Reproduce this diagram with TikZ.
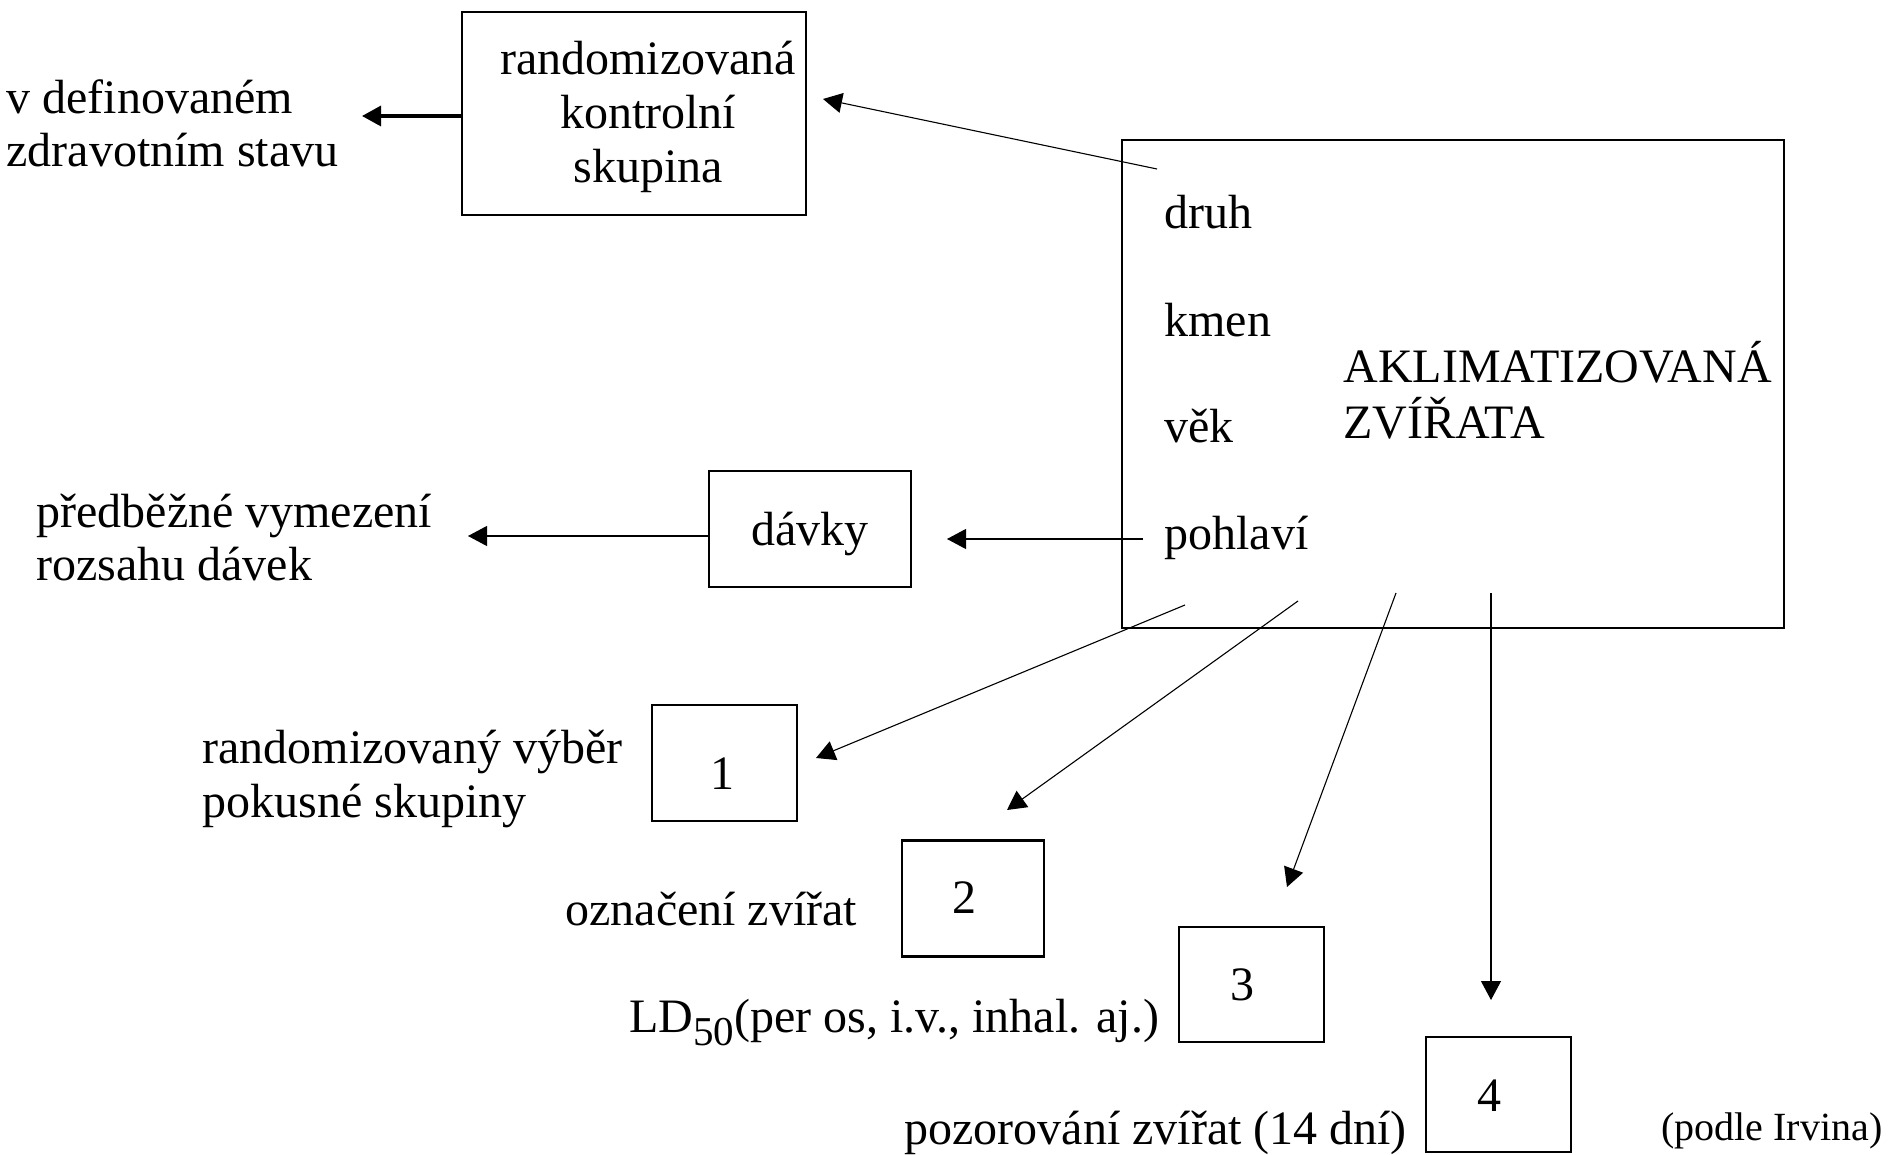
\documentclass[tikz,border=0pt]{standalone}
\usepackage{fontspec}
\setmainfont{Liberation Serif}
\usetikzlibrary{arrows.meta}
\begin{document}
\begin{tikzpicture}[x=0.5pt,y=-0.5pt,
  box/.style={draw, line width=1.45pt, inner sep=0pt},
  txt/.style={inner sep=0pt, font=\fontsize{24}{26.5}\selectfont},
  conn/.style={line width=0.55pt, -{Triangle[length=9.5pt,width=10pt]}},
  thickconn/.style={line width=1.6pt, -{Triangle[length=9.5pt,width=10pt]}}]
\useasboundingbox (0,0) rectangle (1890,1155);
\fill[white] (0,0) rectangle (1890,1155);

% boxes
\node[box, minimum width=172pt, minimum height=101.5pt] (ctrl) at (634,113.5) {};
\node[box, minimum width=331pt, minimum height=244pt] (big) at (1453,384) {};
\node[box, txt, minimum width=101pt, minimum height=58pt, text height=18pt, text depth=2pt] (davky) at (810,529) {dávky};
\node[box, txt, minimum width=72.5pt, minimum height=58pt, text height=26pt, text depth=0pt] (b1) at (724.5,763) {\kern-2pt 1};
\node[box, txt, minimum width=71pt, minimum height=58pt, text height=16.5pt, text depth=2pt] (b2) at (973,898.5) {\kern-9pt 2};
\node[box, txt, minimum width=72.5pt, minimum height=57.5pt, text height=17.5pt, text depth=2pt] (b3) at (1251.5,984.5) {\kern-9.5pt 3};
\node[box, txt, minimum width=72.5pt, minimum height=57.5pt, text height=18.5pt, text depth=2pt] (b4) at (1498.5,1094.5) {\kern-9.5pt 4};

% texts (multi-line nodes: base anchor = baseline of the last line)
\node[txt, align=center, anchor=base, font=\fontsize{24}{27}\selectfont] (ctrltxt) at (648,183) {randomizovaná\\kontrolní\\skupina};
\node[txt, align=left, anchor=base west] (vdef) at (6,167) {v definovaném\\zdravotním stavu};
\node[txt, anchor=base west] (druh) at (1164,229) {druh};
\node[txt, anchor=base west] (kmen) at (1164,336) {kmen};
\node[txt, anchor=base west] (vek) at (1164,442) {věk};
\node[txt, anchor=base west] (pohlavi) at (1164,549) {pohlaví};
\node[txt, align=left, anchor=base west, font=\fontsize{24}{28}\selectfont] (aklim) at (1343,438) {AKLIMATIZOVANÁ\\ZVÍŘATA};
\node[txt, align=left, anchor=base west] (predb) at (36,580) {předběžné vymezení\\rozsahu dávek};
\node[txt, align=left, anchor=base west, font=\fontsize{24}{27}\selectfont] (rvyber) at (202,817) {randomizovaný výběr\\pokusné skupiny};
\node[txt, anchor=base west] (oznac) at (565,925) {označení zvířat};
\node[txt, anchor=base west] (ld) at (629,1032) {LD\raisebox{-6.5pt}{\fontsize{20.5}{20.5}\selectfont 50}(per os, i.v., inhal. aj.)};
\node[txt, anchor=base west] (pozor) at (904,1144) {pozorování zvířat (14 dní)};
\node[txt, anchor=base west, font=\fontsize{20}{22}\selectfont] (irvin) at (1661,1140) {(podle Irvina)};

% connector end points
\coordinate (ctrlout) at (462,116);
\coordinate (vdefin) at (362,116);
\coordinate (druhout) at (1157,169);
\coordinate (ctrlin) at (823,99);
\coordinate (pohlout) at (1143,539);
\coordinate (davkyin) at (947,539);
\coordinate (davkyout) at (709,536);
\coordinate (predbin) at (468,536);
\coordinate (s1) at (1185,605);
\coordinate (t1) at (816,758);
\coordinate (s2) at (1298,601);
\coordinate (t2) at (1007,810);
\coordinate (s3) at (1396,593);
\coordinate (t3) at (1287,887);
\coordinate (s4) at (1491,593);
\coordinate (t4) at (1491,1000);

% connectors
\draw[thickconn] (ctrlout) -- (vdefin);
\draw[conn] (druhout) -- (ctrlin);
\draw[conn] (pohlout) -- (davkyin);
\draw[conn] (davkyout) -- (predbin);
\draw[conn] (s1) -- (t1);
\draw[conn] (s2) -- (t2);
\draw[conn] (s3) -- (t3);
\draw[conn] (s4) -- (t4);
\end{tikzpicture}
\end{document}
